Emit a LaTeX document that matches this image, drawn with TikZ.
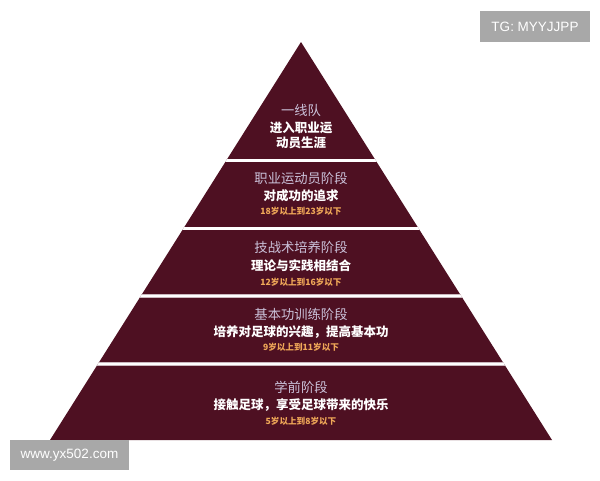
\documentclass[tikz,border=0pt]{standalone}
\usepackage{fontspec}
\setmainfont{Liberation Sans}
\newfontfamily\cjk{Noto Sans CJK SC}
\usepackage{tikz}
\usetikzlibrary{positioning}
\definecolor{pyramidred}{HTML}{4E1022}
\definecolor{lavender}{HTML}{CBC2DA}
\definecolor{agegold}{HTML}{F0A858}
\definecolor{markgray}{HTML}{A8A8A8}
\tikzstyle{stage} = [text=lavender, font=\cjk\fontsize{13.3}{14}\selectfont, inner sep=0pt]
\tikzstyle{goal} = [text=white, font=\cjk\bfseries\fontsize{12.5}{14}\selectfont, inner sep=0pt]
\tikzstyle{age} = [text=agegold, font=\cjk\bfseries\fontsize{8.6}{10}\selectfont, inner sep=0pt]
\tikzstyle{watermark} = [fill=markgray, text=white, font=\fontsize{13.5}{15}\selectfont, inner sep=0pt]
\tikzstyle{gap} = [line width=3.6pt, pyramidred!30!white]

\begin{document}
\begin{tikzpicture}[x=1pt, y=-1pt]
\useasboundingbox (0,0) rectangle (600,480);

% pyramid
\coordinate (apex) at (301,42);
\coordinate (baseleft) at (50,440);
\coordinate (baseright) at (552,440);
\fill [pyramidred] (apex) -- (baseright) -- (baseleft) -- cycle;
\begin{scope}
\clip (apex) -- (baseright) -- (baseleft) -- cycle;
\foreach \y in {160.5,228.5,296,364} {
  \draw [gap] (0,\y) -- (600,\y);
  \draw [white, line width=2.2pt] (0,\y) -- (600,\y);
}
\end{scope}

% first team
\node (team) [stage] at (301,110) {一线队};
\node (teamgoal) [goal] at (301,128) {进入职业运};
\node (teamgoalb) [goal] at (301,143) {动员生涯};

% professional
\node (pro) [stage] at (301,178) {职业运动员阶段};
\node (progoal) [goal] at (301,196) {对成功的追求};
\node (proage) [age] at (301,211) {18岁以上到23岁以下};

% tactics
\node (tac) [stage] at (301,247) {技战术培养阶段};
\node (tacgoal) [goal] at (301,266) {理论与实践相结合};
\node (tacage) [age] at (301,282) {12岁以上到16岁以下};

% basics
\node (basic) [stage] at (301,314) {基本功训练阶段};
\node (basicgoal) [goal] at (301,332) {培养对足球的兴趣，提高基本功};
\node (basicage) [age] at (301,347) {9岁以上到11岁以下};

% preschool
\node (pre) [stage] at (301,387) {学前阶段};
\node (pregoal) [goal] at (301,405) {接触足球，享受足球带来的快乐};
\node (preage) [age] at (301,421) {5岁以上到8岁以下};

% watermarks
\node (tg) [watermark, minimum width=110pt, minimum height=31pt] at (535,26.5) {TG: MYYJJPP};
\node (site) [watermark, minimum width=119pt, minimum height=30pt] at (69.5,455) {www.yx502.com};
\end{tikzpicture}
\end{document}
